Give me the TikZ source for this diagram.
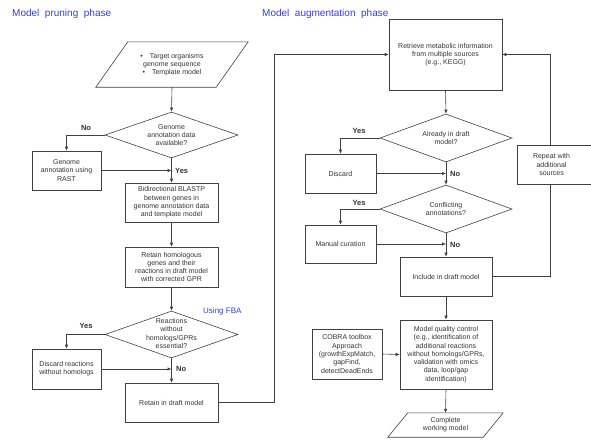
\documentclass[tikz,border=0pt]{standalone}
\usepackage{fontspec}
\setmainfont{Liberation Sans}
\usetikzlibrary{arrows.meta,shapes.geometric,calc}
\definecolor{ln}{HTML}{404040}
\definecolor{tx}{HTML}{333333}
\definecolor{ttlc}{HTML}{3C3CC8}
\begin{document}
\begin{tikzpicture}[x=1pt,y=-1pt,
  font=\fontsize{7}{8.3}\selectfont,
  box/.style={draw=ln, line width=0.6pt, rectangle, align=center, text=tx, inner sep=1pt},
  dec/.style={draw=ln, line width=0.6pt, diamond, inner sep=0pt},
  txt/.style={align=center, text=tx, inner sep=0pt},
  arr/.style={draw=ln, line width=0.6pt, -{Latex[length=4pt,width=3.5pt]}},
  con/.style={draw=ln, line width=0.6pt},
  yn/.style={font=\fontsize{7.5}{9}\selectfont\bfseries, text=tx, inner sep=0pt},
  ttl/.style={font=\fontsize{10}{12}\selectfont, text=ttlc, inner sep=0pt, anchor=west}]
\useasboundingbox (0,0) rectangle (591,445);
\clip (0,0) rectangle (591,445);

% titles
\node[ttl] (t1) at (12,14) {Model\ \ pruning\ \ phase};
\node[ttl] (t2) at (262,14) {Model\ \ augmentation\ \ phase};
\node[ttl, font=\fontsize{8}{10}\selectfont] (fba) at (203,311) {Using FBA};

% ---- pruning phase ----
\node[txt, minimum width=120, minimum height=45] (in) at (172,64.5)
  {\textbullet\quad Target organisms\\genome sequence\\\textbullet\quad Template model};
\draw[con] ($(in.north west)+(16,0)$) -- ($(in.north east)+(16,0)$)
  -- ($(in.south east)+(-16,0)$) -- ($(in.south west)+(-16,0)$) -- cycle;

\node[dec, minimum width=133, minimum height=46] (d1) at (171.5,135) {};
\node[txt] (d1t) at (d1) {Genome\\annotation data\\available?};

\node[box, minimum width=69, minimum height=39] (gen) at (66.5,170.5) {Genome\\annotation using\\RAST};
\node[box, minimum width=93, minimum height=39] (blast) at (171.5,202.5) {Bidirectional BLASTP\\between genes in\\genome annotation data\\and template model};
\node[box, minimum width=93, minimum height=40] (ret) at (171.5,267) {Retain homologous\\genes and their\\reactions in draft model\\with corrected GPR};

\node[dec, minimum width=133, minimum height=47] (d2) at (171.5,334.5) {};
\node[txt] (d2t) at (171.5,333.5) {Reactions\\without\\homologs/GPRs\\essential?};

\node[box, minimum width=69, minimum height=40] (disc) at (66.5,369) {Discard reactions\\without homologs};
\node[box, minimum width=93, minimum height=39] (keep) at (171.5,402.5) {Retain in draft model};

% ---- augmentation phase ----
\node[box, minimum width=113, minimum height=71] (retr) at (445.5,54.5) {Retrieve metabolic information\\from multiple sources\\(e.g., KEGG)};
\node[dec, minimum width=132, minimum height=48] (d3) at (446,138) {};
\node[txt] (d3t) at (d3) {Already in draft\\model?};
\node[box, minimum width=71, minimum height=39] (discard) at (340.5,173.5) {Discard};
\node[dec, minimum width=132, minimum height=48] (d4) at (446,209) {};
\node[txt] (d4t) at (d4) {Conflicting\\annotations?};
\node[box, minimum width=71, minimum height=38] (man) at (340.5,244) {Manual curation};
\node[box, minimum width=92, minimum height=39] (inc) at (446,276.5) {Include in draft model};

\node[box, minimum width=120, minimum height=39] (rep) at (577,164.5) {};
\node[txt] (rept) at (551.5,164.5) {Repeat with\\additional\\sources};
\coordinate (j2) at (550,0);

\node[box, minimum width=92, minimum height=69] (mqc) at (446,354.5) {Model quality control\\(e.g., identification of\\additional reactions\\without homologs/GPRs,\\validation with omics\\data, loop/gap\\identification)};
\node[box, minimum width=70, minimum height=50] (cobra) at (347,354) {COBRA toolbox\\Approach\\(growthExpMatch,\\gapFind,\\detectDeadEnds};

\node[txt, minimum width=95, minimum height=24] (out) at (445.5,425) {Complete\\working model};
\draw[con] ($(out.north west)+(10,0)$) -- ($(out.north east)+(10,0)$)
  -- ($(out.south east)+(-10,0)$) -- ($(out.south west)+(-10,0)$) -- cycle;

% ---- connectors: pruning ----
\draw[arr] (in.south) -- (d1.north);
\draw[arr] (d1.west) -| (gen.north);
\node[yn] (no1) at (86,128) {No};
\draw[arr] (d1.south) -- (blast.north);
\draw[arr] (gen.east) -- (gen.east -| d1.south);
\node[yn, anchor=west] (yes1) at (175,171) {Yes};
\draw[arr] (blast.south) -- (ret.north);
\draw[arr] (ret.south) -- (d2.north);
\draw[arr] (d2.west) -| (disc.north);
\node[yn] (yes2) at (86,326) {Yes};
\draw[arr] (d2.south) -- (keep.north);
\draw[arr] (disc.east) -- (disc.east -| d2.south);
\node[yn, anchor=west] (no2) at (176,369) {No};

\coordinate (j1) at (274,54.5);
\draw[arr] (keep.east) -| (j1) -- (retr.west);

% ---- connectors: augmentation ----
\draw[arr] (retr.south) -- (d3.north);
\draw[arr] (d3.west) -| (discard.north);
\node[yn] (yes3) at (359,131) {Yes};
\draw[arr] (d3.south) -- (d4.north);
\draw[arr] (discard.east) -- (discard.east -| d3.south);
\node[yn, anchor=west] (no3) at (450,173.5) {No};
\draw[arr] (d4.west) -| (man.north);
\node[yn] (yes4) at (359,203) {Yes};
\draw[arr] (d4.south) -- (inc.north);
\draw[arr] (man.east) -- (man.east -| d4.south);
\node[yn, anchor=west] (no4) at (450,245) {No};

\draw[con] (inc.east) -| (rep.south -| j2);
\draw[arr] (rep.north -| j2) |- (retr.east);

\draw[arr] (inc.south) -- (mqc.north);
\draw[arr] (cobra.east) -- (mqc.west);
\draw[arr] (mqc.south) -- (out.north);
\end{tikzpicture}
\end{document}
